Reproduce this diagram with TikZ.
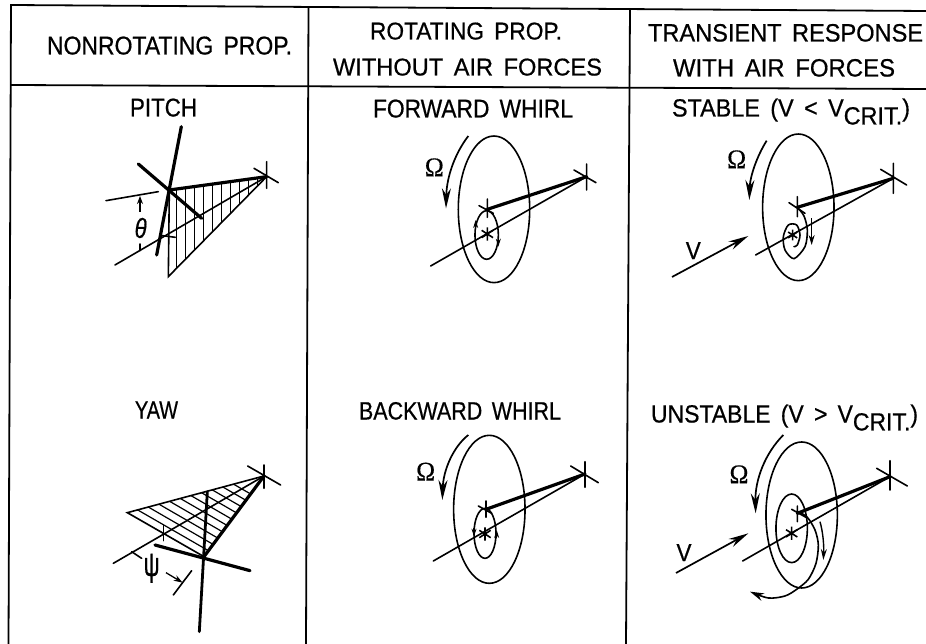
\documentclass[tikz,border=0pt]{standalone}
\usepackage{fontspec}
\usepackage{graphicx}
\setmainfont{Liberation Sans}[WordSpace=1.6,FakeBold=0.6,AutoFakeBold=0.6]
\newfontfamily\omegafont{Liberation Serif}[FakeBold=0.4,AutoFakeBold=0.4]
\usetikzlibrary{arrows.meta}
\tikzset{
  thinl/.style={line width=1.6pt,line cap=round},
  thickl/.style={line width=3.2pt,line cap=round},
  rule/.style={line width=1.8pt},
  hatchl/.style={line width=1.2pt},
  bigtip/.style={line width=1.7pt,-{Stealth[length=20pt,width=9pt]}},
  smalltip/.style={line width=1.2pt,-{Stealth[length=8pt,width=5pt]}},
  lab/.style={inner sep=0pt,outer sep=0pt,anchor=base west},
  ast/.pic={\draw[line width=1.6pt] (-17,-11)--(17,11) (-17,11)--(17,-11) (0,-20)--(0,20);},
}
\newcommand{\lbl}[3]{\resizebox{#1pt}{#2pt}{\bfseries #3}}
\newcommand{\crit}{V\raisebox{-0.32em}{CRIT.}}
\newcommand{\bigomega}{\resizebox{19pt}{18pt}{\omegafont\bfseries Ω}}
\begin{document}
\begin{tikzpicture}[x=1pt,y=-1pt]
\useasboundingbox (0,0) rectangle (926,644);
\fill[white] (0,0) rectangle (926,644);
% frame
\coordinate (tl) at (11,5); \coordinate (tr) at (926,11);
\coordinate (hl) at (10.8,85); \coordinate (hr) at (926,89);
\coordinate (bl) at (8.5,644);
\coordinate (v1t) at (308.5,7.5); \coordinate (v1b) at (306,644);
\coordinate (v2t) at (630,9); \coordinate (v2b) at (626,644);
\draw[rule] (bl)--(tl)--(tr);
\draw[rule] (hl)--(hr);
\draw[rule] (v1t)--(v1b);
\draw[rule] (v2t)--(v2b);
% labels
\node[lab] (t1) at (47,54.5) {\lbl{245}{18}{NONROTATING PROP.}};
\node[lab] (t2) at (370,39.5) {\lbl{192}{17}{ROTATING PROP.}};
\node[lab] (t3) at (333,75.5) {\lbl{269}{17}{WITHOUT AIR FORCES}};
\node[lab] (t4) at (648,41.5) {\lbl{275}{17.5}{TRANSIENT RESPONSE}};
\node[lab] (t5) at (673,76.5) {\lbl{222}{17.5}{WITH AIR FORCES}};
\node[lab] (t6) at (130,116.5) {\lbl{67}{18}{PITCH}};
\node[lab] (t7) at (373,117.5) {\lbl{200}{18}{FORWARD WHIRL}};
\node[lab] (t8) at (672,116.5) {\lbl{238}{18}{STABLE (V < \crit)}};
\node[lab] (t9) at (135,418.5) {\lbl{43}{17}{YAW}};
\node[lab] (t10) at (359,419.5) {\lbl{202}{17.5}{BACKWARD WHIRL}};
\node[lab] (t11) at (651,422.5) {\lbl{267}{18}{UNSTABLE (V > \crit)}};

% PITCH
\begin{scope}[shift={(90,130)},x=0.3333pt,y=-0.3333pt]
  \coordinate (pt) at (530,140); \coordinate (pr) at (238,180); \coordinate (pb) at (235,440);
  \begin{scope}
    \clip (pr)--(pt)--(pb)--cycle;
    \foreach \i in {232,259,...,530} \draw[hatchl] (\i,130)--(\i,445);
  \end{scope}
  \draw[thinl] (pr)--(pb)--(pt);
  \draw[thickl] (pr)--(pt);
  \coordinate (pv1) at (274,-10); \coordinate (pv2) at (200,375);
  \draw[thickl] (pv1)--(pv2);
  \coordinate (pc1) at (145,102); \coordinate (pc2) at (335,265);
  \draw[thickl] (pc1)--(pc2);
  \coordinate (pa) at (75,405); \draw[thinl] (pa)--(pt);
  \coordinate (ptc1) at (530,95); \coordinate (ptc2) at (530,175);
  \coordinate (ptc3) at (492,115); \coordinate (ptc4) at (565,158);
  \draw[thinl] (ptc1)--(ptc2) (ptc3)--(ptc4);
  \coordinate (pref1) at (48,212); \coordinate (pref2) at (205,185);
  \draw[thinl] (pref1)--(pref2);
  \coordinate (parr1) at (150,245); \coordinate (parr2) at (150,198);
  \draw[line width=1.3pt,-{Stealth[length=8pt,width=6pt]}] (parr1)--(parr2);
  \coordinate (ptick1) at (150,342); \coordinate (ptick2) at (150,362);
  \draw[thinl] (ptick1)--(ptick2);
  \node[inner sep=0pt] (theta) at (152,294) {\resizebox{12pt}{20pt}{\bfseries\itshape θ}};
  \coordinate (psm1) at (210,316); \coordinate (psm2) at (256,322);
  \draw[thinl] (psm1)--(psm2);
\end{scope}

% YAW
\begin{scope}[shift={(90,440)},x=0.3333pt,y=-0.3333pt]
  \coordinate (yt) at (522,108); \coordinate (yl) at (112,218); \coordinate (yr) at (342,350);
  \begin{scope}
    \clip (yl)--(yt)--(yr)--cycle;
    \foreach \i in {0,27,...,270} \draw[hatchl] (100,212-\i)--(600,500-\i);
  \end{scope}
  \draw[thinl] (yr)--(yl)--(yt);
  \draw[thickl] (yr)--(yt);
  \coordinate (yv1) at (352,155); \coordinate (yv2) at (328,575);
  \draw[line width=2.8pt,line cap=round] (yv1)--(yv2);
  \coordinate (yc1) at (195,315); \coordinate (yc2) at (480,392);
  \draw[thickl] (yc1)--(yc2);
  \coordinate (ya) at (70,370); \draw[thinl] (ya)--(yt);
  \coordinate (ytc1) at (522,75); \coordinate (ytc2) at (522,145);
  \coordinate (ytc3) at (473,78); \coordinate (ytc4) at (572,135);
  \draw[thinl] (ytc1)--(ytc2) (ytc3)--(ytc4);
  \coordinate (ysm1) at (220,255); \coordinate (ysm2) at (220,302);
  \draw[thinl] (ysm1)--(ysm2);
  \coordinate (yt1) at (125,335); \coordinate (yt2) at (155,355);
  \draw[thinl] (yt1)--(yt2);
  \coordinate (yb1) at (305,392); \coordinate (yb2) at (250,465);
  \draw[thinl] (yb1)--(yb2);
  \coordinate (yar1) at (228,398); \coordinate (yar2) at (278,428);
  \draw[line width=1.3pt,-{Stealth[length=9pt,width=6pt]}] (yar1)--(yar2);
  \node[inner sep=0pt] (psi) at (185,385) {\resizebox{16pt}{22pt}{\bfseries ψ}};
\end{scope}

% FORWARD WHIRL
\begin{scope}[shift={(410,130)},x=0.3333pt,y=-0.3333pt]
  \coordinate (ft) at (530,140); \coordinate (fr) at (232,238);
  \coordinate (fc) at (232,312); \coordinate (fa) at (62,408);
  \draw[thinl] (252,238) ellipse [x radius=35.7pt,y radius=73.3pt];
  \draw[thinl] (230,315) ellipse [x radius=11.7pt,y radius=24.3pt];
  \draw[thickl] (fr)--(ft);
  \draw[thinl] (fa)--(ft);
  \draw[thinl] (530,102)--(530,180) (492,120)--(558,158);
  \draw[thinl] (232,207)--(232,262) (207,227)--(250,250);
  \pic at (fc) {ast};
  \node[inner sep=0pt] (fo) at (73,112) {\bigomega};
  \coordinate (fa1) at (175,18); \coordinate (fa2) at (108,235);
  \draw[bigtip] (fa1) .. controls (135,70) and (110,140) .. (fa2);
  \draw[smalltip] (197,298)--(197,270);
  \draw[smalltip] (265,322)--(265,350);
\end{scope}

% BACKWARD WHIRL
\begin{scope}[shift={(410,430)},x=0.3333pt,y=-0.3333pt]
  \coordinate (bt) at (525,132); \coordinate (br) at (228,238);
  \coordinate (bc) at (225,312); \coordinate (ba) at (70,393);
  \draw[thinl] (238,238) ellipse [x radius=35.7pt,y radius=74pt];
  \draw[thinl] (225,310) ellipse [x radius=11pt,y radius=25pt];
  \draw[thickl] (br)--(bt);
  \draw[thinl] (ba)--(bt);
  \draw[thinl] (525,95)--(525,172) (482,108)--(565,158);
  \draw[thinl] (228,213)--(228,262) (205,228)--(245,250);
  \pic at (bc) {ast};
  \node[inner sep=0pt] (bo) at (47,125) {\bigomega};
  \coordinate (ba1) at (175,15); \coordinate (ba2) at (97,210);
  \draw[bigtip] (ba1) .. controls (130,50) and (100,120) .. (ba2);
  \draw[smalltip] (192,295)--(192,320);
  \draw[smalltip] (260,325)--(260,300);
\end{scope}

% STABLE
\begin{scope}[shift={(690,130)},x=0.3333pt,y=-0.3333pt]
  \coordinate (st) at (610,145); \coordinate (sr) at (322,232);
  \coordinate (sc) at (308,315); \coordinate (sa) at (197,375);
  \draw[thinl] (325,232) ellipse [x radius=35.7pt,y radius=73.3pt];
  \draw[thinl] plot[smooth] coordinates {(322,232) (342,258) (352,300) (345,350) (312,386) (285,360) (280,320) (295,285) (320,285) (330,315) (322,345) (312,350)};
  \draw[thickl] (sr)--(st);
  \draw[thinl] (sa)--(st);
  \draw[thinl] (610,100)--(610,190) (572,118)--(650,165);
  \draw[thinl] (322,200)--(322,260) (297,218)--(345,250);
  \pic[scale=0.8] at (sc) {ast};
  \node[inner sep=0pt] (so) at (140,88) {\bigomega};
  \coordinate (sa1) at (230,32); \coordinate (sa2) at (178,210);
  \draw[bigtip] (sa1) .. controls (200,80) and (180,140) .. (sa2);
  \coordinate (ss1) at (365,265); \coordinate (ss2) at (365,345);
  \draw[line width=1.4pt,-{Stealth[length=10pt,width=6pt]}] (ss1)--(ss2);
  \coordinate (sv1) at (-54,441); \coordinate (sv2) at (175,318);
  \draw[bigtip] (sv1)--(sv2);
  \node[inner sep=0pt] (sV) at (10,362) {\resizebox{15pt}{17pt}{\bfseries V}};
\end{scope}

% UNSTABLE
\begin{scope}[shift={(690,430)},x=0.3333pt,y=-0.3333pt]
  \coordinate (ut) at (600,140); \coordinate (ur) at (322,250);
  \coordinate (uc) at (305,310); \coordinate (ua) at (158,393);
  \draw[thinl] (335,255) ellipse [x radius=35.7pt,y radius=73pt];
  \draw[thinl] (305,295) ellipse [x radius=15.7pt,y radius=34.3pt];
  \draw[thinl,-{Stealth[length=14pt,width=8pt]}] plot[smooth] coordinates {(325,245) (352,262) (375,300) (385,345) (378,400) (355,448) (320,478) (285,498) (235,504) (180,485)};
  \draw[thickl] (ur)--(ut);
  \draw[thinl] (ua)--(ut);
  \draw[thinl] (600,92)--(600,180) (560,115)--(652,168);
  \draw[thinl] (322,228)--(322,275) (305,238)--(348,262);
  \pic at (uc) {ast};
  \node[inner sep=0pt] (uo) at (147,133) {\bigomega};
  \coordinate (ua1) at (280,15); \coordinate (ua2) at (197,250);
  \draw[bigtip] (ua1) .. controls (225,70) and (195,150) .. (ua2);
  \coordinate (us1) at (390,275); \coordinate (us2) at (400,390);
  \draw[line width=1.4pt,-{Stealth[length=11pt,width=6pt]}] (us1) .. controls (400,310) and (402,350) .. (us2);
  \coordinate (uv1) at (-42,429); \coordinate (uv2) at (175,310);
  \draw[bigtip] (uv1)--(uv2);
  \node[inner sep=0pt] (uV) at (-18,368) {\resizebox{15pt}{17pt}{\bfseries V}};
\end{scope}
\end{tikzpicture}
\end{document}
